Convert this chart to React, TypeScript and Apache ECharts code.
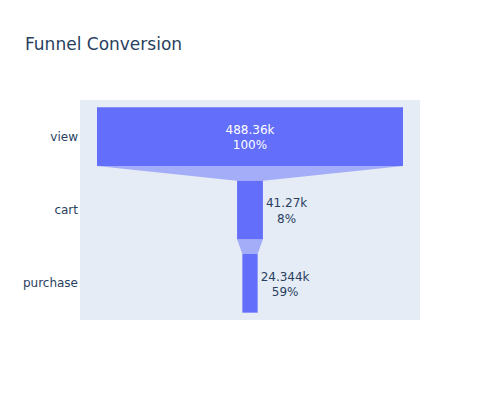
import React, { useEffect, useRef } from "react";
import * as echarts from "echarts";

const stages = ["view", "cart", "purchase"];
const values = [488360, 41270, 24344];
const valueLabels = ["488.36k", "41.27k", "24.344k"];
const percentLabels = ["100%", "8%", "59%"];

const FONT = "'DejaVu Sans', verdana, arial, sans-serif";
const BAR = "#636efa";
const CONNECTOR = "rgba(99,110,250,0.5)";
const TEXT = "#2a3f5f";

let measureCtx: CanvasRenderingContext2D | null = null;
function textWidth(s: string): number {
  if (!measureCtx) {
    const c = document.createElement("canvas");
    measureCtx = c.getContext("2d");
  }
  if (!measureCtx) return s.length * 7;
  measureCtx.font = `12px ${FONT}`;
  return measureCtx.measureText(s).width;
}

export default function App() {
  const ref = useRef<HTMLDivElement>(null);

  useEffect(() => {
    if (!ref.current) return;
    const chart = echarts.init(ref.current, undefined, { renderer: "svg" });
    const xHalf = values[0] / 2 / 0.9;
    const data = values.map((v, i) => [v, i, i > 0 ? values[i - 1] : 0]);

    const renderItem = (params: any, api: any) => {
      const v = api.value(0);
      const i = api.value(1);
      const prev = api.value(2);
      const center = api.coord([0, i]);
      const band = api.size([0, 1])[1];
      const h = band * 0.8;
      const left = api.coord([-v / 2, i])[0];
      const right = api.coord([v / 2, i])[0];
      const top = center[1] - h / 2;
      const children: any[] = [];
      if (i > 0) {
        const pl = api.coord([-prev / 2, i - 1]);
        const pr = api.coord([prev / 2, i - 1]);
        const pb = pl[1] + h / 2;
        children.push({
          type: "polygon",
          shape: {
            points: [
              [pl[0], pb],
              [pr[0], pb],
              [right, top],
              [left, top],
            ],
          },
          style: { fill: CONNECTOR },
        });
      }
      children.push({
        type: "rect",
        shape: { x: left, y: top, width: right - left, height: h },
        style: { fill: BAR },
      });
      const l1 = valueLabels[i];
      const l2 = percentLabels[i];
      const w = Math.max(textWidth(l1), textWidth(l2));
      const inside = w + 6 < right - left;
      const tx = inside ? center[0] : right + 3 + w / 2;
      children.push({
        type: "text",
        style: {
          text: l1 + "\n" + l2,
          x: tx,
          y: center[1] + 1,
          align: "center",
          verticalAlign: "middle",
          fill: inside ? "#ffffff" : TEXT,
          fontSize: 12,
          fontFamily: FONT,
          lineHeight: 15.5,
        },
      });
      return { type: "group", children };
    };

    chart.setOption({
      animation: false,
      backgroundColor: "#ffffff",
      textStyle: { fontFamily: FONT },
      title: {
        text: "Funnel Conversion",
        left: 20,
        top: 30,
        textStyle: { fontSize: 17, color: TEXT, fontWeight: "normal", fontFamily: FONT },
      },
      grid: {
        left: 80,
        top: 100,
        width: 340,
        height: 220,
        show: true,
        backgroundColor: "#E5ECF6",
        borderWidth: 0,
        containLabel: false,
      },
      xAxis: {
        type: "value",
        min: -xHalf,
        max: xHalf,
        show: false,
      },
      yAxis: {
        type: "category",
        data: stages,
        inverse: true,
        axisLine: { show: false },
        axisTick: { show: false },
        splitLine: { show: false },
        axisLabel: { color: TEXT, fontSize: 12, fontFamily: FONT, margin: 2 },
      },
      series: [
        {
          type: "custom",
          renderItem,
          encode: { x: 0, y: 1 },
          data,
        },
      ],
    });
    return () => chart.dispose();
  }, []);

  return (
    <div
      ref={ref}
      style={{ position: "fixed", left: 0, top: 0, width: 500, height: 400 }}
    />
  );
}
